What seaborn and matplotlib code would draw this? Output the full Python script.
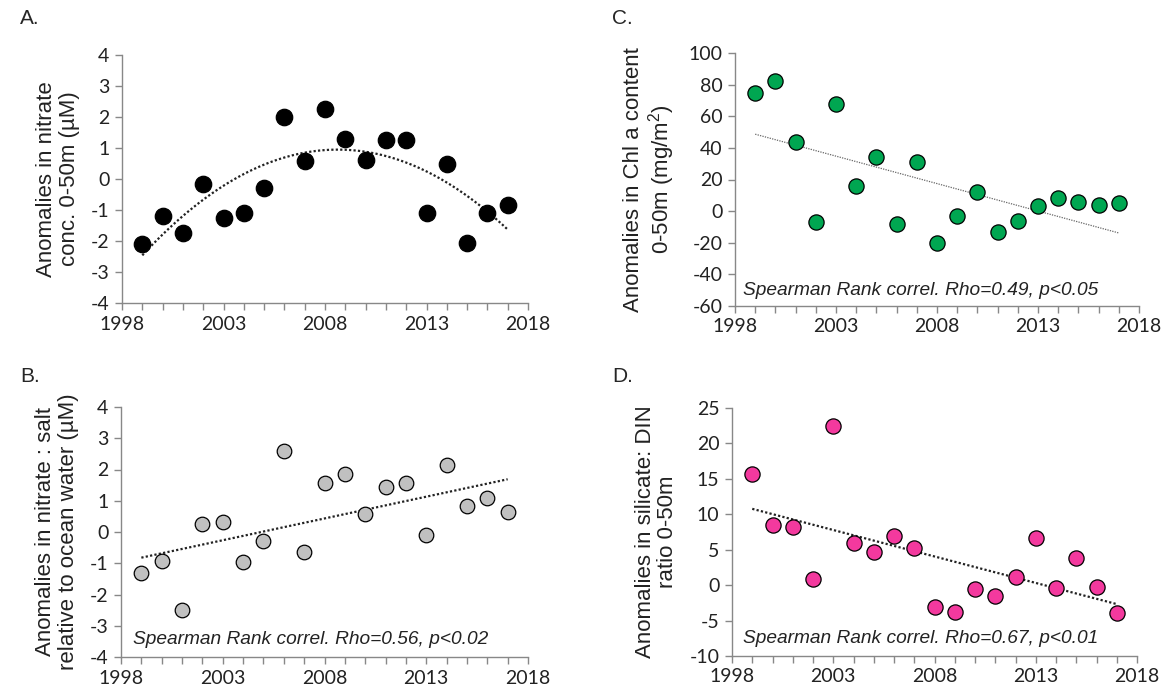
import numpy as np
import pandas as pd
import seaborn as sns
import matplotlib.pyplot as plt
from matplotlib.ticker import MultipleLocator

# --- data ---
years = list(range(1999, 2018))

nitrate = [-2.1, -1.2, -1.75, -0.15, -1.25, -1.1, -0.28, 2.0, 0.57, 2.25,
           1.3, 0.6, 1.25, 1.25, -1.1, 0.47, -2.05, -1.1, -0.85]
nitrate_salt = [-1.3, -0.92, -2.48, 0.27, 0.33, -0.95, -0.28, 2.6, -0.65, 1.57,
                1.85, 0.57, 1.45, 1.57, -0.08, 2.13, 0.82, 1.1, 0.63]
chl = [75, 82, 44, -7, 68, 16, 34, -8, 31, -20,
       -3, 12, -13, -6, 3, 8, 6, 4, 5]
si_din = [15.7, 8.5, 8.2, 0.9, 22.5, 6.0, 4.7, 6.9, 5.3, -3.1,
          -3.8, -0.6, -1.5, 1.2, 6.7, -0.4, 3.9, -0.2, -4.0]

xticks = [1998, 2003, 2008, 2013, 2018]
ylabels = ["Anomalies in nitrate\nconc. 0-50m (µM)",
           "Anomalies in nitrate : salt\nrelative to ocean water (µM)",
           "Anomalies in Chl a content\n0-50m (mg/m$^2$)",
           "Anomalies in silicate: DIN\nratio 0-50m"]
notes = [None,
         "Spearman Rank correl. Rho=0.56, p<0.02",
         "Spearman Rank correl. Rho=0.49, p<0.05",
         "Spearman Rank correl. Rho=0.67, p<0.01"]

sns.set_theme(style="white")
plt.rcParams['font.family'] = ['Liberation Sans', 'DejaVu Sans']
plt.rcParams['axes.unicode_minus'] = False
plt.rcParams['mathtext.default'] = 'regular'

fig = plt.figure(figsize=(11.73, 6.92), dpi=100)
W, H = 1173, 692


def make_ax(x0, x1, y0, y1):
    return fig.add_axes([x0 / W, 1 - y1 / H, (x1 - x0) / W, (y1 - y0) / H])


axA = make_ax(122, 528, 55, 303)
axB = make_ax(121, 528, 407, 657)
axC = make_ax(735, 1139, 53, 306)
axD = make_ax(732, 1137, 408, 656)

# (axis, values, colour, size, fit order, line colour, line width, ylim, ystep, note pos)
panels = [
    (axA, nitrate, "black", 140, 2, "#222222", 1.6, (-4, 4), 1, None),
    (axB, nitrate_salt, "#c0c0c0", 110, 1, "#222222", 1.6, (-4, 4), 1, (1998.6, -3.45)),
    (axC, chl, "#00a651", 120, 1, "#666666", 0.9, (-60, 100), 20, (1998.4, -50)),
    (axD, si_din, "#f3399e", 120, 1, "#222222", 1.6, (-10, 25), 5, (1998.55, -7.6)),
]

for i, (ax, vals, col, size, order, lcol, lw, ylim, ystep, npos) in enumerate(panels):
    df = pd.DataFrame({"year": years, "value": vals})
    sns.regplot(data=df, x="year", y="value", ax=ax, order=order, ci=None,
                scatter=False, truncate=True,
                line_kws=dict(color=lcol, lw=lw, ls=(0, (1, 1))))
    sns.scatterplot(data=df, x="year", y="value", ax=ax, color=col, s=size,
                    edgecolor="black", linewidth=0.9, zorder=3)

    ax.set_xlim(1998, 2018)
    ax.set_ylim(*ylim)
    ax.set_xticks(xticks)
    ax.xaxis.set_minor_locator(MultipleLocator(1))
    ax.yaxis.set_major_locator(MultipleLocator(ystep))
    ax.tick_params(axis="both", which="both", direction="out", color="#888888",
                   length=5, width=1, labelsize=14, labelcolor="#222222",
                   bottom=True, left=True, pad=4)
    for lab in ax.get_xticklabels() + ax.get_yticklabels():
        lab.set_fontfamily(["Lato", "DejaVu Sans"])
    for sp in ["top", "right"]:
        ax.spines[sp].set_visible(False)
    for sp in ["left", "bottom"]:
        ax.spines[sp].set_color("#888888")
        ax.spines[sp].set_linewidth(1)
    ax.set_xlabel("")
    ax.set_ylabel(ylabels[i], fontsize=16, color="#222222", labelpad=8,
                  linespacing=1.1, multialignment="center")
    if notes[i]:
        ax.text(npos[0], npos[1], notes[i], fontsize=13.8, style="italic",
                color="#222222", va="center", ha="left")

# panel letters
fig.text(20 / W, 1 - 18 / H, "A.", fontsize=15, va="center")
fig.text(20 / W, 1 - 377 / H, "B.", fontsize=15, va="center")
fig.text(612 / W, 1 - 18 / H, "C.", fontsize=15, va="center")
fig.text(612 / W, 1 - 377 / H, "D.", fontsize=15, va="center")

fig.savefig("out.png", dpi=100)
